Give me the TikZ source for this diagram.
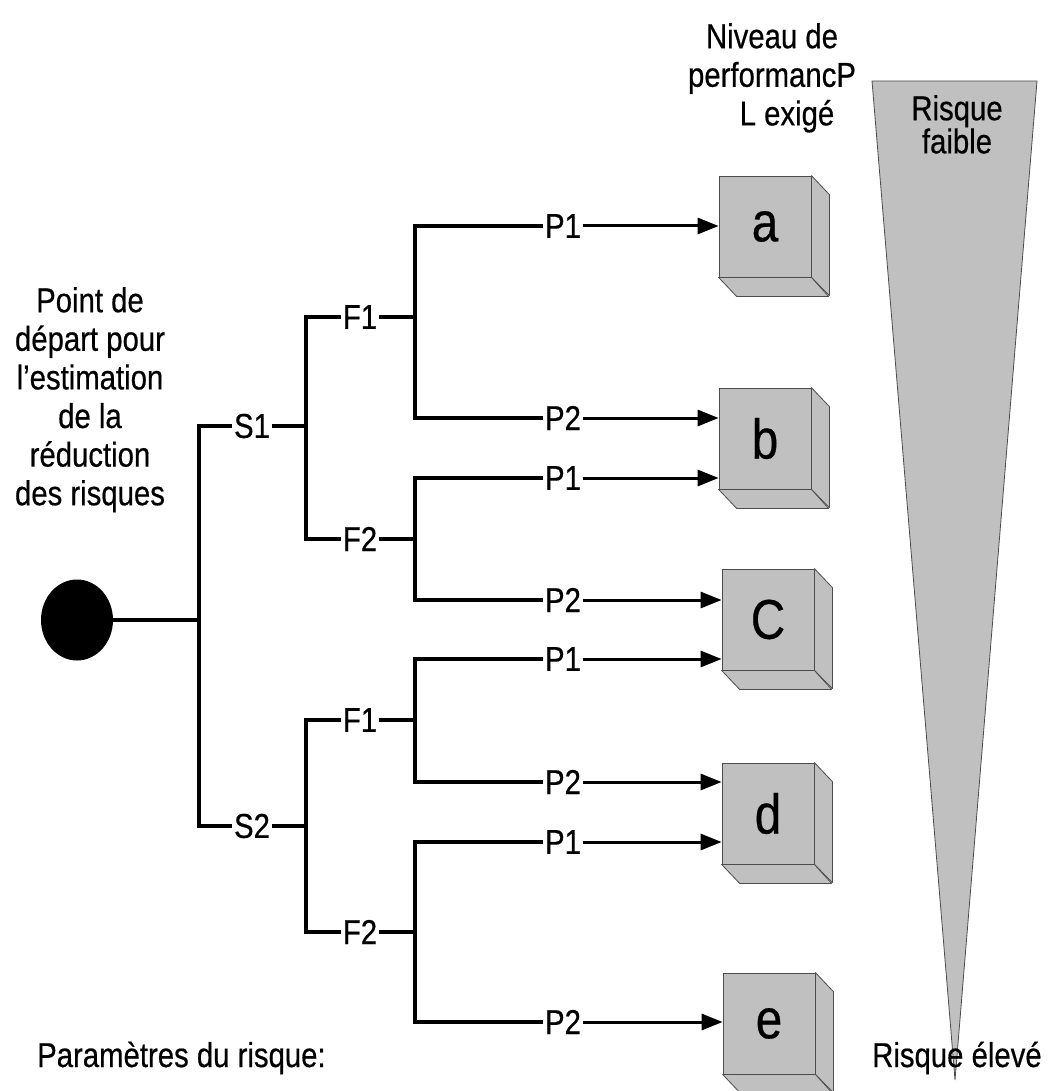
\documentclass[tikz,border=0pt]{standalone}
\usepackage{fontspec}
\setmainfont{Liberation Sans}[FakeStretch=0.85, FakeBold=0.5]
\usetikzlibrary{arrows.meta,shapes.geometric}
\definecolor{boxgrey}{RGB}{192,192,192}

\begin{document}
\begin{tikzpicture}[x=1pt,y=-1pt,
  branch/.style={line width=3.6pt, line join=miter},
  pline/.style={line width=3pt, -{Triangle[length=21pt,width=16pt]}},
  lbl/.style={font=\fontsize{34.5}{38.6}\selectfont, inner xsep=1.5pt, inner ysep=2pt},
  txt/.style={font=\fontsize{34.5}{38.6}\selectfont, inner sep=0pt, align=center},
  level/.style={draw=black!70, line width=0.8pt, fill=boxgrey,
    minimum width=92pt, minimum height=101pt, inner sep=0pt,
    font=\fontsize{56}{62}\selectfont},
  face/.style={draw=black!70, line width=0.8pt, fill=boxgrey, line join=round},
]
\useasboundingbox (0,0) rectangle (1049,1091);

% risk wedge
\draw[draw=black!70, line width=0.8pt, fill=boxgrey] (872,81) -- (1037,81) -- (955,1080) -- cycle;
\node[txt, font=\fontsize{34.5}{32}\selectfont, anchor=north] (low) at (957,95) {Risque\\faible};
\node[txt, anchor=base west] (high) at (872,1067) {Risque élevé};

% headings
\node[txt, anchor=north] (head) at (772,23) {Niveau de\\performancP\\\hspace*{30pt}L exigé};
\node[txt, anchor=north] (startlbl) at (90,287) {Point de\\départ pour\\l’estimation\\de la\\réduction\\des risques};
\node[txt, anchor=base west] (params) at (37,1067) {Paramètres du risque:};

% performance level boxes
\node[level] (ba) at (765,226.5) {a};
\node[level] (bb) at (765,438.5) {b};
\node[level] (bc) at (768,619.5) {C};
\node[level] (bd) at (768,813.5) {d};
\node[level] (be) at (769,1023.5) {e};
\foreach \b in {ba,bb,bc,bd,be}{
  \draw[face] (\b.north east) -- ++(18,19) -- ++(0,101) -- (\b.south east) -- cycle;
  \draw[face] (\b.south west) -- ++(18,19) -- ++(92,0) -- (\b.south east) -- cycle;
}

% junction columns
\coordinate (tx) at (199,0);
\coordinate (fx) at (306,0);
\coordinate (px) at (415,0);

% start point
\node[fill=black, ellipse, minimum width=72pt, minimum height=81pt, inner sep=0pt] (start) at (77,620) {};
\coordinate (t0) at (199,620);
\draw[line width=3.2pt] (start) -- (t0);

% severity
\node[lbl] (s1) at (252,426) {S1};
\node[lbl] (s2) at (252,826) {S2};
\draw[branch] (s1) -- (s1 -| tx) -- (s2 -| tx) -- (s2);

% frequency
\node[lbl] (f1a) at (360,317) {F1};
\node[lbl] (f2a) at (360,539) {F2};
\node[lbl] (f1b) at (360,720) {F1};
\node[lbl] (f2b) at (360,932) {F2};
\draw[branch] (s1) -- (s1 -| fx);
\draw[branch] (s2) -- (s2 -| fx);
\draw[branch] (f1a) -- (f1a -| fx) -- (f2a -| fx) -- (f2a);
\draw[branch] (f1b) -- (f1b -| fx) -- (f2b -| fx) -- (f2b);

% possibility of avoidance
\node[lbl] (pa1) at (563,226) {P1};
\node[lbl] (pa2) at (563,418) {P2};
\node[lbl] (pb1) at (563,478) {P1};
\node[lbl] (pb2) at (563,600) {P2};
\node[lbl] (pc1) at (563,659) {P1};
\node[lbl] (pc2) at (563,782) {P2};
\node[lbl] (pd1) at (563,842) {P1};
\node[lbl] (pd2) at (563,1022) {P2};
\foreach \f/\u/\v in {f1a/pa1/pa2, f2a/pb1/pb2, f1b/pc1/pc2, f2b/pd1/pd2}{
  \draw[branch] (\f) -- (\f -| px);
  \draw[branch] (\u) -- (\u -| px) -- (\v -| px) -- (\v);
}

% arrows to the required levels
\draw[pline] (pa1) -- (pa1 -| ba.west);
\draw[pline] (pa2) -- (pa2 -| bb.west);
\draw[pline] (pb1) -- (pb1 -| bb.west);
\draw[pline] (pb2) -- (pb2 -| bc.west);
\draw[pline] (pc1) -- (pc1 -| bc.west);
\draw[pline] (pc2) -- (pc2 -| bd.west);
\draw[pline] (pd1) -- (pd1 -| bd.west);
\draw[pline] (pd2) -- (pd2 -| be.west);
\end{tikzpicture}
\end{document}
